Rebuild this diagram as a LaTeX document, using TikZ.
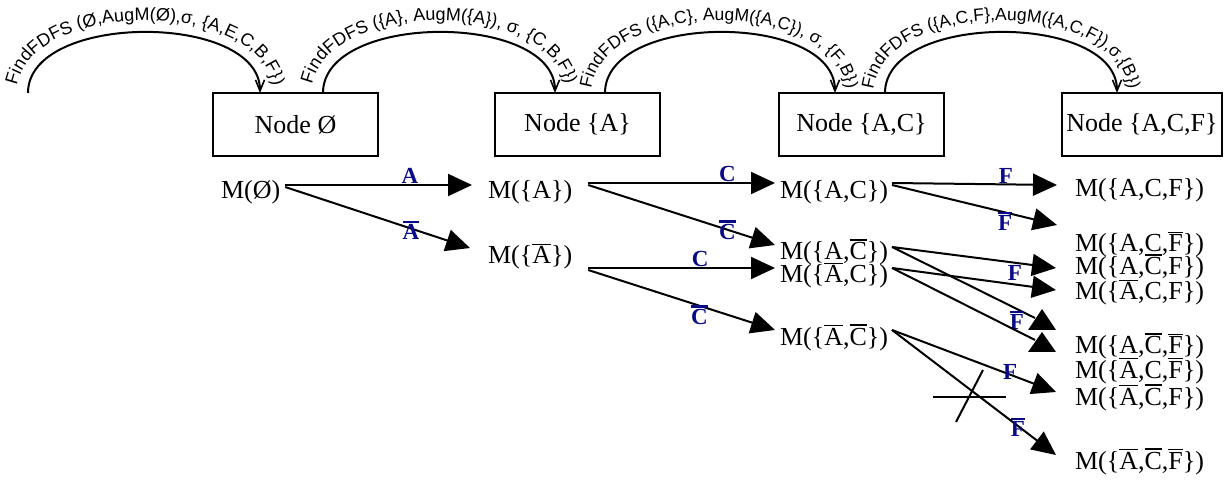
\documentclass[tikz,border=0pt]{standalone}
\usepackage{fontspec}
\setmainfont{Liberation Serif}
\newfontfamily\arcfont{Liberation Sans}
\usetikzlibrary{arrows.meta,decorations.text,calc}
\definecolor{lblblue}{HTML}{0A0A88}
\newcommand\ovl[1]{\vbox{\hrule height 1.8pt\kern 1.5pt\hbox{#1}}}
\newcommand\ovb[1]{\vbox{\hrule height 2.5pt\kern 1.3pt\hbox{#1}}}
\tikzset{
  box/.style={draw, rectangle, line width=2pt, minimum width=165pt, minimum height=63pt,
    inner sep=0pt, outer sep=0pt, font=\fontsize{26}{30}\selectfont},
  mtext/.style={anchor=base west, inner sep=0pt, outer sep=0pt, font=\fontsize{26}{30}\selectfont},
  conn/.style={line width=2pt, -{Triangle[length=24pt,width=22pt]}},
  plain/.style={line width=2pt},
  lab/.style={text=lblblue, inner sep=0pt, font=\fontsize{23}{26}\selectfont\bfseries},
  arcline/.style={line width=2pt, -{Straight Barb[length=11pt,width=9pt,line width=1.6pt]}},
  arctext/.style={decorate, decoration={text along path, text align=center, text={#1}}}
}
\begin{document}
\begin{tikzpicture}[x=1pt,y=-1pt]
\useasboundingbox (0,0) rectangle (1232,486);

% boxes
\node[box] (b1) at (295.5,124.5) {Node Ø};
\node[box] (b2) at (577.5,124.5) {Node \{A\}};
\node[box] (b3) at (861.5,124.5) {Node \{A,C\}};
\node[box, minimum width=160pt] (b4) at (1142,124.5) {Node \{A,C,F\}};

% arcs
\coordinate (a0) at (28,93);
\draw[arcline] (a0) .. controls +(0,-81) and +(0,-81) .. ([xshift=47pt]b1.north west);
\draw[arcline] ([xshift=110pt]b1.north west) .. controls +(0,-81) and +(0,-81) .. ([xshift=60pt]b2.north west);
\draw[arcline] ([xshift=110pt]b2.north west) .. controls +(0,-81) and +(0,-81) .. ([xshift=56pt]b3.north west);
\draw[arcline] ([xshift=106pt]b3.north west) .. controls +(0,-81) and +(0,-81) .. ([xshift=55pt]b4.north west);

% arc texts
\path[arctext={|\arcfont\fontsize{18}{18}\selectfont|FindFDFS (Ø,AugM(Ø),σ, {\{}A,E,C,B,F{\}})}]
  (16,96) .. controls (16,-5) and (274,-5) .. (274,96);
\path[arctext={|\arcfont\fontsize{18}{18}\selectfont|FindFDFS ({\{}A{\}}, AugM({\{}A{\}}), σ, {\{}C,B,F{\}})}]
  (311,96) .. controls (311,-5) and (567,-5) .. (567,96);
\path[arctext={|\arcfont\fontsize{17.5}{18}\selectfont|FindFDFS ({\{}A,C{\}}, AugM({\{}A,C{\}}), σ, {\{}F,B{\}})}]
  (591,96) .. controls (591,-5) and (847,-5) .. (847,96);
\path[arctext={|\arcfont\fontsize{17.5}{18}\selectfont|FindFDFS ({\{}A,C,F{\}},AugM({\{}A,C,F{\}}),σ,{\{}B{\}})}]
  (873,96) .. controls (873,-5) and (1129,-5) .. (1129,96);

% M texts
\node[mtext] (m0) at (221,199) {M(Ø)};
\node[mtext] (mA) at (488,199) {M(\{A\})};
\node[mtext] (mnA) at (488,264) {M(\{\ovl{A}\})};
\node[mtext] (mAC) at (780,199) {M(\{A,C\})};
\node[mtext] (mAnC) at (780,260) {M(\{A,\ovl{C}\})};
\node[mtext] (mnAC) at (780,283) {M(\{\ovl{A},C\})};
\node[mtext] (mnAnC) at (780,345) {M(\{\ovl{A},\ovl{C}\})};
\node[mtext] (mACF) at (1075,197) {M(\{A,C,F\})};
\node[mtext] (mACnF) at (1075,252) {M(\{A,C,\ovl{F}\})};
\node[mtext] (mAnCF) at (1075,275) {M(\{A,\ovl{C},F\})};
\node[mtext] (mnACF) at (1075,300) {M(\{\ovl{A},C,F\})};
\node[mtext] (mAnCnF) at (1075,354) {M(\{A,\ovl{C},\ovl{F}\})};
\node[mtext] (mnACnF) at (1075,378) {M(\{\ovl{A},C,\ovl{F}\})};
\node[mtext] (mnAnCF) at (1075,405) {M(\{\ovl{A},\ovl{C},F\})};
\node[mtext] (mnAnCnF) at (1075,469) {M(\{\ovl{A},\ovl{C},\ovl{F}\})};

% level 1
\draw[conn] ([shift={(5,-14)}]m0.base east) -- node[lab, above, pos=.668] {A} ([shift={(-16,-14)}]mA.base west);
\draw[conn] ([shift={(5,-12)}]m0.base east) -- node[lab, pos=.68, yshift=-2pt] {\ovb{A}} ([shift={(-18,-16)}]mnA.base west);

% level 2
\draw[conn] ([shift={(16,-16)}]mA.base east) -- node[lab, above, pos=.746] {C} ([shift={(-5,-16)}]mAC.base west);
\draw[conn] ([shift={(16,-14)}]mA.base east) -- node[lab, pos=.746] {\ovb{C}} ([shift={(-5,-15)}]mAnC.base west);
\draw[conn] ([shift={(16,4)}]mnA.base east) -- node[lab, above, pos=.6] {C} ([shift={(-5,-15)}]mnAC.base west);
\draw[conn] ([shift={(16,6)}]mnA.base east) -- node[lab, pos=.595, yshift=-9pt] {\ovb{C}} ([shift={(-5,-15)}]mnAnC.base west);

% level 3
\draw[conn] ([shift={(4,-16)}]mAC.base east) -- node[lab, above, pos=.69] {F} ([shift={(-18,-12)}]mACF.base west);
\draw[conn] ([shift={(4,-14)}]mAC.base east) -- node[lab, pos=.685, yshift=-9pt] {\ovb{F}} ([shift={(-18,-27)}]mACnF.base west);

\draw[conn] ([shift={(4,-13)}]mAnC.base east) -- node[lab, pos=.75, yshift=-10pt] {F} ([shift={(-19,-7)}]mAnCF.base west);
\draw[conn] ([shift={(4,-15)}]mnAC.base east) -- ([shift={(-19,-10)}]mnACF.base west);

\coordinate (t1) at (1035,318);
\coordinate (t2) at (1035,340);
\draw[plain] ([shift={(4,-13)}]mAnC.base east) -- node[lab, pos=.874, yshift=-11pt] {\ovb{F}} (t1);
\draw[plain] ([shift={(4,-15)}]mnAC.base east) -- (t2);
\fill ([shift={(7,-9)}]t1) -- ([shift={(21,12)}]t1) -- ([shift={(-7,12)}]t1) -- cycle;
\fill ([shift={(7,-8)}]t2) -- ([shift={(21,12)}]t2) -- ([shift={(-7,12)}]t2) -- cycle;

\draw[conn] ([shift={(4,-15)}]mnAnC.base east) -- node[lab, pos=.72, yshift=3pt] {F} ([shift={(-19,-13)}]mnAnCF.base west);
\draw[conn] ([shift={(4,-15)}]mnAnC.base east) -- node[lab, pos=.768, yshift=-1pt] {\ovb{F}} ([shift={(-19,-14)}]mnAnCnF.base west);

% cross mark
\draw[plain] (933,397) -- (1006,397);
\draw[plain] (983,370) -- (956,422);
\end{tikzpicture}
\end{document}
